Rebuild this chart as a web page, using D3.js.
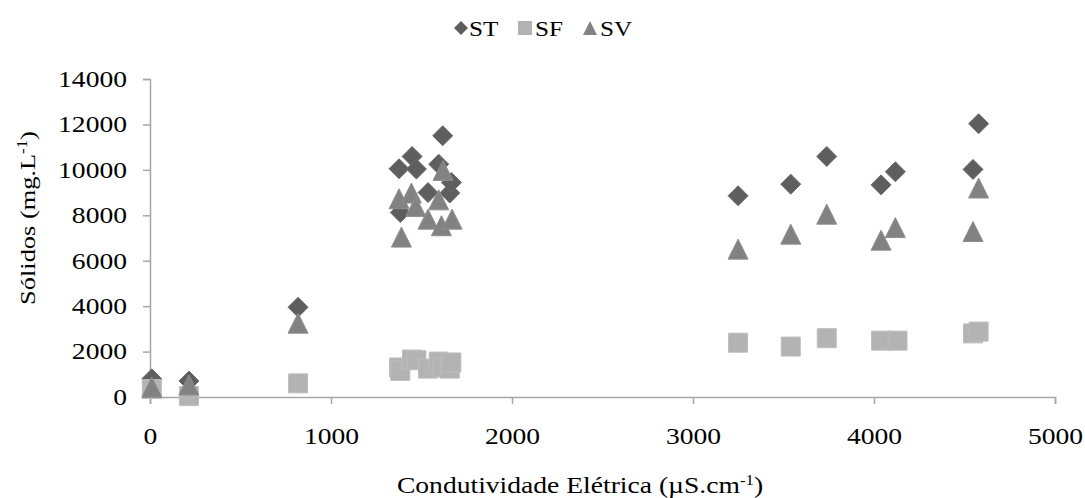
<!DOCTYPE html>
<html lang="pt">
<head>
    <meta charset="UTF-8">
    <title>Sólidos x Condutividade</title>
    <script src="https://d3js.org/d3.v7.min.js"></script>
    <style>
        body { margin: 0; background: #fff; }
        text { font-family: "Liberation Serif", "Times New Roman", serif; fill: #000; }
    </style>
</head>
<body>
<svg id="chart" width="1085" height="498"></svg>

<script>
    // ST (sólidos totais)
    const stX = [10, 215, 818, 1376, 1383, 1448, 1472, 1536, 1595, 1617, 1656, 1665, 3249, 3540, 3739, 4039, 4118, 4547, 4578];
    const stY = [800, 705, 3950, 10050, 8120, 10590, 10035, 9000, 10250, 11500, 8980, 9445, 8860, 9370, 10590, 9340, 9915, 10020, 12030];
    // SF (sólidos fixos)
    const sfX = [10, 215, 818, 1376, 1383, 1448, 1472, 1536, 1595, 1617, 1656, 1665, 3249, 3540, 3739, 4039, 4130, 4547, 4578];
    const sfY = [350, 40, 600, 1300, 1150, 1650, 1620, 1250, 1560, 1300, 1250, 1520, 2390, 2220, 2590, 2480, 2480, 2800, 2880];
    // SV (sólidos voláteis)
    const svX = [10, 215, 818, 1376, 1389, 1444, 1468, 1536, 1595, 1619, 1610, 1669, 3249, 3540, 3739, 4039, 4118, 4547, 4578];
    const svY = [430, 530, 3250, 8730, 7040, 8980, 8390, 7830, 8680, 9975, 7540, 7830, 6510, 7170, 8050, 6905, 7460, 7285, 9200];

    const xTicks = [0, 1000, 2000, 3000, 4000, 5000];
    const yTicks = [0, 2000, 4000, 6000, 8000, 10000, 12000, 14000];

    const stretch = 1.2;   // the original text is drawn a bit wider than Times
    const axisColor = "#a6a6a6";

    const svg = d3.select("#chart");

    const x = d3.scaleLinear().domain([0, 5000]).range([150, 1055]);
    const y = d3.scaleLinear().domain([0, 14000]).range([397, 79]);

    // marker shapes, centred on 0,0
    function diamond(r) { return "M0," + (-r) + "L" + r + ",0L0," + r + "L" + (-r) + ",0Z"; }
    function square(r) { return "M" + (-r) + "," + (-r) + "H" + r + "V" + r + "H" + (-r) + "Z"; }
    function triangle(r) { return "M0," + (-r) + "L" + r + "," + r + "H" + (-r) + "Z"; }

    const series = [
        { name: "ST", xs: stX, ys: stY, shape: diamond, size: 10, fill: "#5e5e5e", stroke: "#6c6c6c" },
        { name: "SF", xs: sfX, ys: sfY, shape: square, size: 9.5, fill: "#b3b3b3", stroke: "#bdbdbd" },
        { name: "SV", xs: svX, ys: svY, shape: triangle, size: 10, fill: "#828282", stroke: "#8e8e8e" }
    ];

    // axes
    const gx = svg.append("g")
        .attr("transform", "translate(0," + y(0) + ")")
        .call(d3.axisBottom(x).tickValues(xTicks).tickSize(7).tickFormat(d3.format("d")));
    gx.selectAll("text")
        .attr("y", 31)
        .attr("dy", "0.71em")
        .style("font-size", "23px")
        .attr("transform", "scale(" + stretch + ",1)");

    const gy = svg.append("g")
        .attr("transform", "translate(" + x(0) + ",0)")
        .call(d3.axisLeft(y).tickValues(yTicks).tickSize(7).tickFormat(d3.format("d")));
    gy.selectAll("text")
        .attr("x", -23 / stretch)
        .style("font-size", "23px")
        .attr("transform", "scale(" + stretch + ",1)");

    svg.selectAll(".domain, .tick line")
        .attr("stroke", axisColor)
        .attr("stroke-width", 1.5);
    svg.selectAll(".tick text").attr("fill", "#000");

    // points
    series.forEach(function (s) {
        svg.append("g")
            .selectAll("path")
            .data(s.xs.map(function (v, i) { return [v, s.ys[i]]; }))
            .enter()
            .append("path")
            .attr("d", s.shape(s.size))
            .attr("transform", function (d) { return "translate(" + x(d[0]) + "," + y(d[1]) + ")"; })
            .attr("fill", s.fill)
            .attr("stroke", s.stroke)
            .attr("stroke-width", 1);
    });

    // axis titles
    const xt = svg.append("text")
        .attr("transform", "translate(580,493) scale(" + stretch + ",1)")
        .attr("text-anchor", "middle")
        .style("font-size", "23px");
    xt.append("tspan").text("Condutividade Elétrica (µS.cm");
    xt.append("tspan").attr("dy", -8).style("font-size", "14px").text("-1");
    xt.append("tspan").attr("dy", 8).text(")");

    const yt = svg.append("text")
        .attr("transform", "translate(35,218) rotate(-90) scale(" + stretch + ",1)")
        .attr("text-anchor", "middle")
        .style("font-size", "22px");
    yt.append("tspan").text("Sólidos (mg.L");
    yt.append("tspan").attr("dy", -8).style("font-size", "14px").text("-1");
    yt.append("tspan").attr("dy", 8).text(")");

    // legend
    const legendPos = [461, 525, 590];
    series.forEach(function (s, i) {
        const g = svg.append("g").attr("transform", "translate(" + legendPos[i] + ",28)");
        g.append("path")
            .attr("d", s.shape(7))
            .attr("fill", s.fill);
        g.append("text")
            .attr("transform", "translate(" + (i === 0 ? 8 : 10) + ",8) scale(" + stretch + ",1)")
            .style("font-size", "21px")
            .text(s.name);
    });
</script>
</body>
</html>
